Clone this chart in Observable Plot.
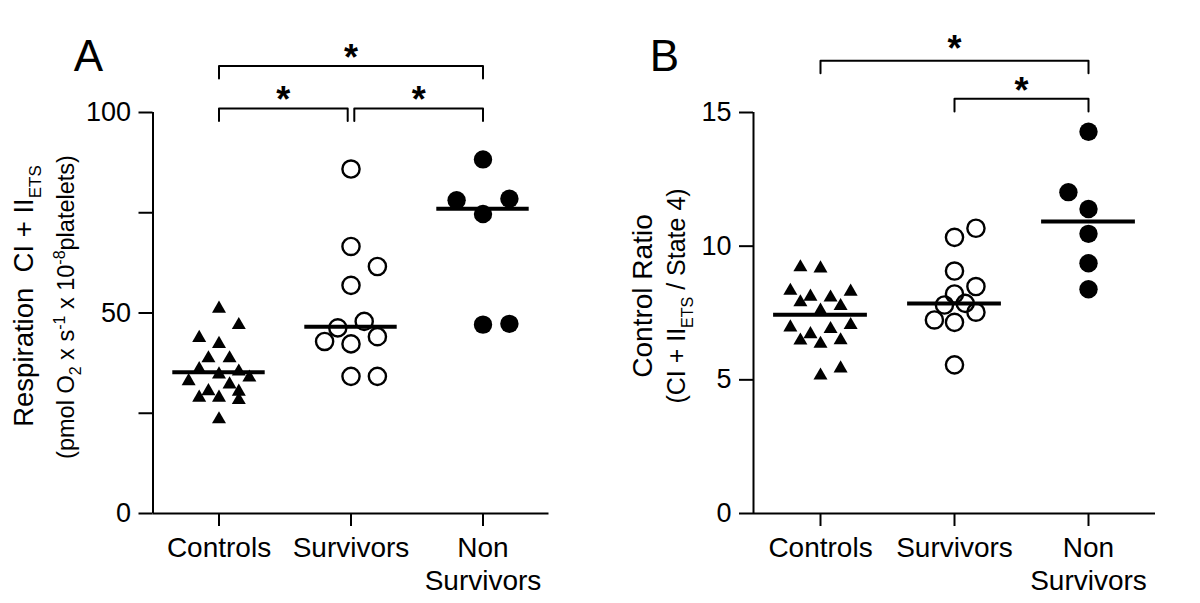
<!DOCTYPE html>
<html><head><meta charset="utf-8">
<script src="https://cdn.jsdelivr.net/npm/d3@7"></script>
<script src="https://cdn.jsdelivr.net/npm/@observablehq/plot@0.6"></script>
<style>
body{margin:0;background:#fff;color:#000;}
#wrap{display:flex;width:1200px;height:603px;}
#wrap svg{display:block;flex:none;}
</style></head><body><div id="wrap"></div>
<script>
// ---------- shared ----------
const categories = ["Controls", "Survivors", "Non Survivors"];
const categoryTickLabels = ["Controls", "Survivors", "Non\nSurvivors"];

// ---------- Panel A: Respiration CI + II_ETS ----------
const respControls = [51.1, 47.0, 43.8, 42.3, 38.7, 38.7, 36.0, 34.7, 35.4, 33.0, 33.9, 32.2, 30.5, 30.4, 28.9, 28.9, 28.3, 23.5];
const respControlsJitter = [0, 0.15, -0.15, 0, -0.08, 0.08, -0.15, 0, 0.15, -0.23, 0.23, 0.08, -0.08, 0.15, -0.15, 0, 0.15, 0];
const respSurvivors = [85.9, 66.6, 61.6, 56.9, 47.9, 46.3, 42.9, 42.3, 44.1, 34.2, 34.2];
const respSurvivorsJitter = [0, 0, 0.2, 0, 0.1, -0.1, -0.2, 0, 0.2, 0, 0.2];
const respNonSurvivors = [88.3, 78.1, 78.5, 74.7, 47.1, 47.3];
const respNonSurvivorsJitter = [0, -0.2, 0.2, 0, 0, 0.2];
const respMedians = [35.2, 46.6, 76.0];
const respTicks = [0, 25, 50, 75, 100];
const respTickLabels = [0, 50, 100];
const respSignificance = [["Controls", "Survivors"], ["Survivors", "Non Survivors"], ["Controls", "Non Survivors"]];

// ---------- Panel B: Control Ratio ----------
const crControls = [9.21, 9.17, 8.33, 8.30, 8.11, 8.08, 7.90, 7.76, 7.59, 6.96, 7.05, 6.71, 6.90, 6.47, 6.35, 6.48, 5.16, 5.43];
const crControlsJitter = [-0.15, 0, -0.225, 0.225, -0.075, 0.075, -0.15, 0.15, 0, -0.225, 0.225, -0.075, 0.075, -0.15, 0, 0.15, 0, 0.15];
const crSurvivors = [10.67, 10.33, 9.07, 8.49, 8.21, 7.80, 7.86, 7.53, 7.24, 7.15, 5.56];
const crSurvivorsJitter = [0.16, 0, 0, 0.16, 0, -0.075, 0.08, 0.16, -0.15, 0, 0];
const crNonSurvivors = [14.28, 12.02, 11.39, 10.46, 9.36, 8.39];
const crNonSurvivorsJitter = [0, -0.15, 0, 0, 0, 0];
const crMedians = [7.43, 7.86, 10.92];
const crTicks = [0, 5, 10, 15];
const crTickLabels = [0, 5, 10, 15];
const crSignificance = [["Survivors", "Non Survivors"], ["Controls", "Non Survivors"]];

const FONT = "'Liberation Sans', Arial, Helvetica, sans-serif";

function buildPanel(cfg) {
  const rows = (vals, jit, gi) => vals.map((v, j) => ({cat: categories[gi], x: gi + jit[j], y: v}));
  const g0 = rows(cfg.groups[0], cfg.jitters[0], 0);
  const g1 = rows(cfg.groups[1], cfg.jitters[1], 1);
  const g2 = rows(cfg.groups[2], cfg.jitters[2], 2);
  const meds = cfg.medians.map((m, i) => ({i, y: m}));

  // significance brackets
  const sig = cfg.sig.map(([a, b], k) => {
    const ia = categories.indexOf(a), ib = categories.indexOf(b);
    return {id: k, ia, ib, tier: ib - ia - 1};
  });
  const brackets = [];
  for (const s of sig) {
    const shared = (idx) => sig.some(o => o !== s && o.tier === s.tier && (o.ia === idx || o.ib === idx));
    const x1 = s.ia + (shared(s.ia) ? 0.025 : 0);
    const x2 = s.ib - (shared(s.ib) ? 0.025 : 0);
    const lvl = cfg.levels[s.tier];
    s.x = (x1 + x2) / 2; s.level = lvl; s.dy = cfg.starDy[s.tier];
    brackets.push({id: s.id, x: x1, y: lvl - cfg.leg}, {id: s.id, x: x1, y: lvl}, {id: s.id, x: x2, y: lvl}, {id: s.id, x: x2, y: lvl - cfg.leg});
  }
  const starMarks = [0, 1].map(tier => Plot.text(sig.filter(s => s.tier === tier), {
    x: "x", y: "level", text: () => "*", fontSize: 36, fontWeight: "bold", dy: cfg.starDy[tier]
  }));

  const svg = Plot.plot({
    width: 600, height: 603,
    marginLeft: cfg.marginLeft, marginRight: cfg.marginRight, marginTop: 112, marginBottom: 90,
    x: {domain: [-0.5, 2.5], axis: null},
    y: {domain: cfg.yDomain, axis: null},
    style: {fontFamily: FONT, fontSize: "27px", color: "black", background: "white", overflow: "visible"},
    marks: [
      Plot.axisY({ticks: cfg.ticks, tickFormat: d => cfg.tickLabels.includes(d) ? String(d) : "", tickSize: 14, tickPadding: 8, fontSize: 27, strokeWidth: 2, label: null}),
      Plot.axisX({ticks: [0, 1, 2], tickFormat: i => categoryTickLabels[i], tickSize: 13, tickPadding: 7, fontSize: 28, lineHeight: 1.17, strokeWidth: 2, label: null}),
      Plot.ruleX([-0.5], {strokeWidth: 2}),
      Plot.ruleY([cfg.yDomain[0]], {strokeWidth: 2}),
      Plot.dot(g0, {x: "x", y: "y", symbol: "triangle", r: 5.2, fill: "black", stroke: "none"}),
      Plot.dot(g1, {x: "x", y: "y", symbol: "circle", r: 8.6, fill: "none", stroke: "black", strokeWidth: 2.4}),
      Plot.dot(g2, {x: "x", y: "y", symbol: "circle", r: 9.2, fill: "black", stroke: "none"}),
      Plot.ruleY(meds, {y: "y", x1: d => d.i - 0.35, x2: d => d.i + 0.35, strokeWidth: 4}),
      Plot.line(brackets, {x: "x", y: "y", z: "id", strokeWidth: 2, stroke: "black", curve: "linear"}),
      ...starMarks,
      Plot.text([cfg.letter], {text: d => d, frameAnchor: "top-left", dx: cfg.letterDx, dy: -73, fontSize: 44, textAnchor: "middle"})
    ]
  });

  // y-axis title lines with sub/superscripts (real SVG text)
  for (const line of cfg.titleLines) {
    const t = d3.select(svg).append("text")
      .attr("transform", `translate(${line.x},${line.y}) rotate(-90)`)
      .attr("text-anchor", "middle")
      .attr("font-family", FONT)
      .attr("font-size", line.size)
      .attr("fill", "black");
    let shift = 0;
    for (const p of line.parts) {
      const ts = t.append("tspan").text(p.t);
      const target = p.sub ? line.size * 0.3 : p.sup ? -line.size * 0.4 : 0;
      if (p.sub || p.sup) ts.attr("font-size", p.size);
      if (target - shift !== 0) ts.attr("dy", target - shift);
      shift = target;
    }
  }
  return svg;
}

const wrap = document.getElementById("wrap");

wrap.appendChild(buildPanel({
  groups: [respControls, respSurvivors, respNonSurvivors],
  jitters: [respControlsJitter, respSurvivorsJitter, respNonSurvivorsJitter],
  medians: respMedians,
  yDomain: [0, 100], ticks: respTicks, tickLabels: respTickLabels,
  sig: respSignificance, levels: [101.0, 111.6], leg: 3.1, starDy: [-8, -8],
  marginLeft: 152.5, marginRight: 51.5,
  letter: "A", letterDx: -64.5,
  titleLines: [
    {x: 33, y: 296, size: 27.5, parts: [{t: "Respiration  CI + II"}, {t: "ETS", sub: true, size: 17}]},
    {x: 74, y: 307, size: 23.5, parts: [{t: "(pmol O"}, {t: "2", sub: true, size: 16}, {t: " x s"}, {t: "-1", sup: true, size: 16}, {t: " x 10"}, {t: "-8", sup: true, size: 16}, {t: "platelets)"}]}
  ]
}));

wrap.appendChild(buildPanel({
  groups: [crControls, crSurvivors, crNonSurvivors],
  jitters: [crControlsJitter, crSurvivorsJitter, crNonSurvivorsJitter],
  medians: crMedians,
  yDomain: [0, 15], ticks: crTicks, tickLabels: crTickLabels,
  sig: crSignificance, levels: [15.51, 16.94], leg: 0.47, starDy: [-7.5, -11],
  marginLeft: 153, marginRight: 45,
  letter: "B", letterDx: -89,
  titleLines: [
    {x: 52, y: 296, size: 28, parts: [{t: "Control Ratio"}]},
    {x: 85, y: 296, size: 25, parts: [{t: "(CI + II"}, {t: "ETS", sub: true, size: 16}, {t: " / State 4)"}]}
  ]
}));
</script>
</body></html>
